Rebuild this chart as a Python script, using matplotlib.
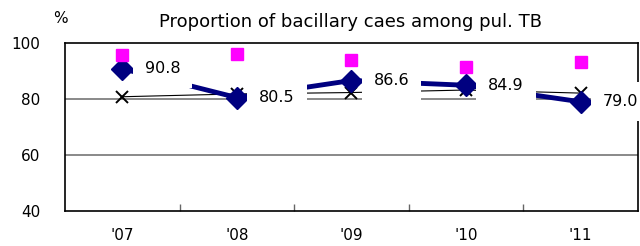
import matplotlib
matplotlib.use('Agg')
import matplotlib.pyplot as plt

years = ["'07", "'08", "'09", "'10", "'11"]
bacillary = [90.8, 80.5, 86.6, 84.9, 79.0]
squares = [95.7, 96.0, 93.9, 91.4, 93.2]
crosses = [80.8, 81.8, 82.3, 83.2, 82.1]

fig = plt.figure(figsize=(6.4, 2.46), dpi=100)
ax = fig.add_axes([0.1016, 0.1423, 0.895, 0.683])

x = [i + 0.5 for i in range(len(years))]

ax.plot(x, crosses, color='black', lw=0.8, marker='x', ms=9, mew=1.4, zorder=3)
ax.plot(x, bacillary, color='#000080', lw=3.5, marker='D', ms=11, zorder=4)
ax.plot(x, squares, ls='none', color='#ff00ff', marker='s', ms=8, zorder=5)

for xi, v in zip(x, bacillary):
    ax.annotate('%.1f' % v, (xi, v), xytext=(16, 0), textcoords='offset points',
                va='center', ha='left', fontsize=11.5, zorder=6, annotation_clip=False,
                bbox=dict(boxstyle='square,pad=0.75', fc='white', ec='none'))

ax.set_xlim(0, 5)
ax.set_ylim(40, 100)
ax.set_yticks([40, 60, 80, 100])
ax.set_xticks(x)
ax.set_xticklabels(years)
ax.set_xticks([1, 2, 3, 4], minor=True)
ax.tick_params(axis='x', which='major', length=0, pad=12, labelsize=11)
ax.tick_params(axis='x', which='minor', direction='in', length=5, width=1, color='#666666')
ax.tick_params(axis='y', length=0, pad=18, labelsize=11)

for g in [60, 80]:
    ax.axhline(g, color='#808080', lw=1.3, zorder=1)

for s in ax.spines.values():
    s.set_linewidth(1.2)
    s.set_color('black')

fig.text(0.547, 0.91, 'Proportion of bacillary caes among pul. TB', ha='center', va='center', fontsize=13)
fig.text(0.094, 0.925, '%', ha='center', va='center', fontsize=11)

fig.savefig('out.png', dpi=100)
